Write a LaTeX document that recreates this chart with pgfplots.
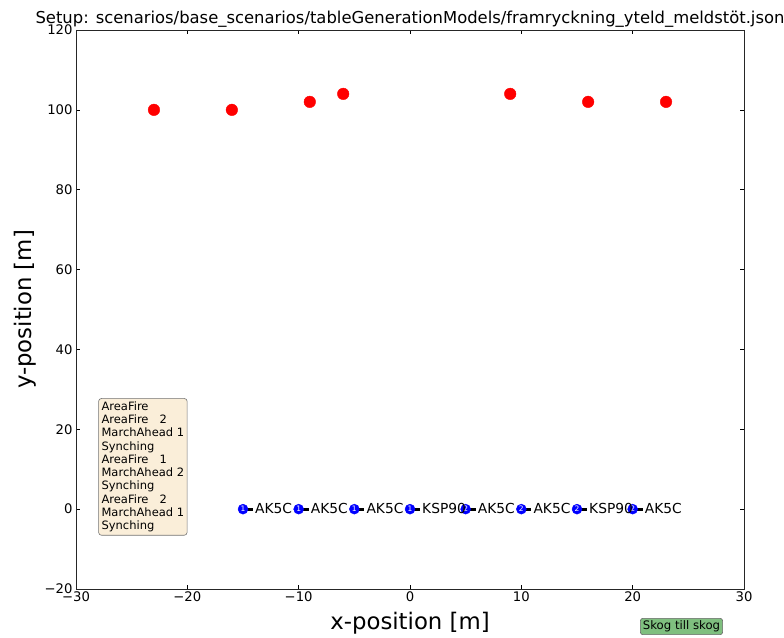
\documentclass[border=0pt]{standalone}
\usepackage{fontspec}
\setmainfont{DejaVu Sans}
\usepackage{pgfplots}
\pgfplotsset{compat=1.18}
\definecolor{boxwheat}{RGB}{250,238,217}
\definecolor{boxgreen}{RGB}{127,191,127}
\begin{document}
\begin{tikzpicture}[x=1pt,y=1pt]
\useasboundingbox (-76,-48) rectangle (708,589);
\begin{axis}[
  scale only axis, width=668pt, height=559pt, at={(0,0)}, anchor=south west,
  xmin=-30, xmax=30, ymin=-20, ymax=120,
  xtick={-30,-20,...,30}, xticklabels={−30,−20,−10,0,10,20,30},
  ytick={-20,0,...,120}, yticklabels={−20,0,20,40,60,80,100,120},
  tick align=inside, major tick length=4pt,
  tick style={black, line width=0.6pt},
  axis line style={black!85, line width=0.9pt},
  tick label style={font=\fontsize{13.2}{16}\selectfont},
  xticklabel style={yshift=1pt},
  /pgf/number format/assume math mode=true,
  xlabel={x-position [m]}, ylabel={y-position [m]},
  every axis x label/.style={at={(axis description cs:0.5,0)}, anchor=center, yshift=-34pt, font=\fontsize{22.8}{26}\selectfont},
  every axis y label/.style={at={(axis description cs:-0.0763,0.5)}, anchor=center, rotate=90, font=\fontsize{22.8}{26}\selectfont},
  title={Setup: scenarios/base\_scenarios/tableGenerationModels/framryckning\_yteld\_meldstöt.json},
  every axis title/.style={at={(axis description cs:0.5,1)}, anchor=center, yshift=10.5pt, font=\fontsize{16.4}{19}\selectfont},
  clip=false,
  unbounded coords=jump,
]
% red points
\addplot[only marks, mark=*, mark size=5.8pt, mark options={draw=red, fill=red}] coordinates {
  (-23,100) (-16,100) (-9,102) (-6,104) (9,104) (16,102) (23,102)
};
% direction lines
\addplot[black, line width=2.8pt] coordinates {
  (-15,0) (-14.1,0) (nan,nan)
  (-10,0) (-9.1,0) (nan,nan)
  (-5,0) (-4.1,0) (nan,nan)
  (0,0) (0.9,0) (nan,nan)
  (5,0) (5.9,0) (nan,nan)
  (10,0) (10.9,0) (nan,nan)
  (15,0) (15.9,0) (nan,nan)
  (20,0) (20.9,0)
};
% blue markers with numbers
\addplot[only marks, mark=*, mark size=5pt, mark options={draw=blue, fill=blue},
  point meta=explicit symbolic,
  nodes near coords, nodes near coords align={center},
  every node near coord/.append style={anchor=center, text=white, inner sep=0pt, font=\fontsize{7.5}{7.5}\selectfont}]
  coordinates {
  (-15,0) [1] (-10,0) [1] (-5,0) [1] (0,0) [1]
  (5,0) [2] (10,0) [2] (15,0) [2] (20,0) [2]
};
% weapon labels
\addplot[only marks, mark=none, draw=none,
  point meta=explicit symbolic,
  nodes near coords,
  every node near coord/.append style={anchor=west, xshift=12pt, yshift=1pt, inner sep=0pt, text=black, font=\fontsize{13.8}{16}\selectfont}]
  coordinates {
  (-15,0) [AK5C] (-10,0) [AK5C] (-5,0) [AK5C] (0,0) [KSP90]
  (5,0) [AK5C] (10,0) [AK5C] (15,0) [KSP90] (20,0) [AK5C]
};
\node[draw=black!55, fill=boxwheat, rounded corners=3pt, anchor=north west, align=left,
  font=\fontsize{11.5}{13.3}\selectfont, inner sep=3pt, line width=0.6pt]
  at (axis cs:-28,27.8)
  {AreaFire\\AreaFire\ \ \ 2\\MarchAhead 1\\Synching\\AreaFire\ \ \ 1\\MarchAhead 2\\Synching\\AreaFire\ \ \ 2\\MarchAhead 1\\Synching};
\end{axis}
\node[draw=black!60, fill=boxgreen, rounded corners=2.5pt, inner sep=2.5pt, line width=0.6pt,
  font=\fontsize{11.7}{13}\selectfont] at (605.5,-37.5) {Skog till skog};
\end{tikzpicture}
\end{document}
